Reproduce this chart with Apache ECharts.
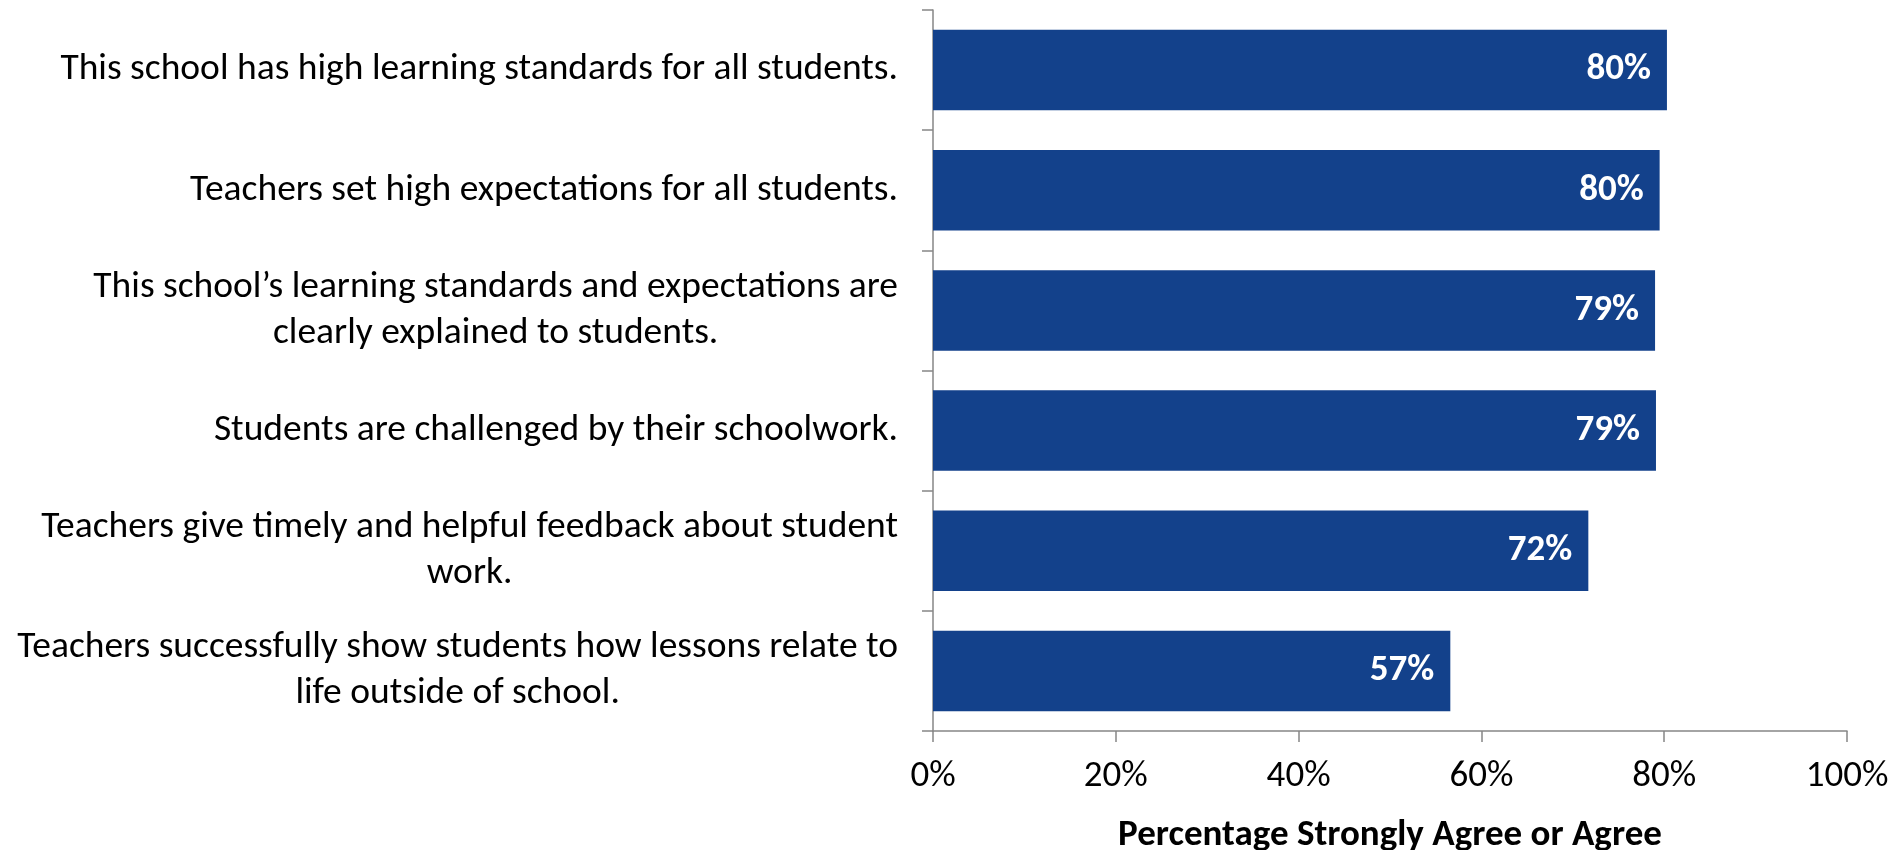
<!DOCTYPE html>
<html>
<head>
<meta charset="utf-8">
<script src="https://cdn.jsdelivr.net/npm/echarts@6/dist/echarts.min.js"></script>
<style>html,body{margin:0;padding:0;background:#fff;}#c{width:1900px;height:850px;}</style>
</head>
<body>
<div id="c"></div>
<script>
const categories = [
  "This school has high learning standards for all students.",
  "Teachers set high expectations for all students.",
  "This school\u2019s learning standards and expectations are\nclearly explained to students.",
  "Students are challenged by their schoolwork.",
  "Teachers give timely and helpful feedback about student\nwork.",
  "Teachers successfully show students how lessons relate to\nlife outside of school."
];
const values = [80.3, 79.5, 79.0, 79.1, 71.7, 56.6];
const xTicks = [0, 20, 40, 60, 80, 100];
const axisTitle = "Percentage Strongly Agree or Agree";

const FONT = "Carlito, Lato, sans-serif";
const chart = echarts.init(document.getElementById('c'), null, {renderer: 'canvas'});
chart.setOption({
  animation: false,
  grid: {left: 933, right: 53, top: 10, bottom: 119, containLabel: false, outerBoundsMode: 'none'},
  xAxis: {
    type: 'value', min: xTicks[0], max: xTicks[xTicks.length - 1], interval: 20,
    splitLine: {show: false},
    axisLine: {show: true, lineStyle: {color: '#868686', width: 1.5}},
    axisTick: {show: true, length: 11, lineStyle: {color: '#868686', width: 1.5}},
    axisLabel: {formatter: '{value}%', fontSize: 37, fontFamily: FONT, color: '#000', margin: 27},
    name: axisTitle, nameLocation: 'middle', nameGap: 86,
    nameTextStyle: {fontSize: 37, fontWeight: 'bold', fontFamily: FONT, color: '#000'}
  },
  yAxis: {
    type: 'category', data: categories, inverse: true,
    axisLine: {show: true, lineStyle: {color: '#868686', width: 1.5}},
    axisTick: {show: true, length: 11, alignWithLabel: false, lineStyle: {color: '#868686', width: 1.5}},
    axisLabel: {
      margin: 35, align: 'right', fontSize: 37.5, fontFamily: FONT, color: '#000', lineHeight: 46,
      formatter: function (v) { return v.split('\n').map(l => '{c|' + l + '}').join('\n'); },
      rich: {c: {align: 'center', fontSize: 37.5, fontFamily: FONT, color: '#000', lineHeight: 46}}
    }
  },
  series: [{
    type: 'bar', data: values, barCategoryGap: '33%',
    itemStyle: {color: '#13418B'},
    label: {
      show: true, position: 'insideRight', distance: 16,
      formatter: p => Math.round(p.value) + '%',
      color: '#fff', fontWeight: 'bold', fontSize: 37, fontFamily: FONT
    }
  }]
});
</script>
</body>
</html>
